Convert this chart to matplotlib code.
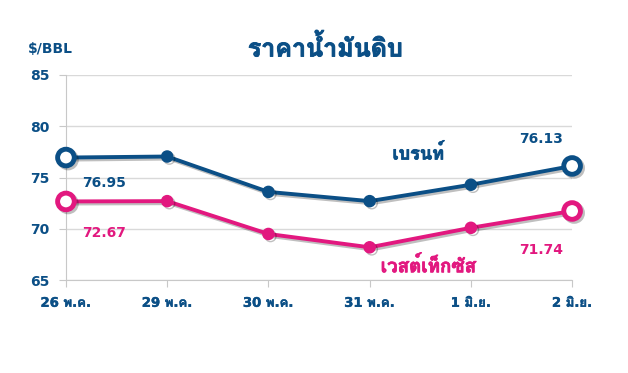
import matplotlib
matplotlib.use('Agg')
import matplotlib.pyplot as plt
import matplotlib.patheffects as pe
from matplotlib import font_manager
from fontTools.ttLib import TTFont

# look for installed fonts with Thai glyphs, prefer a family that has a bold face
thai = {}
for f in font_manager.fontManager.ttflist:
    try:
        cmap = TTFont(f.fname, fontNumber=0, lazy=True).getBestCmap()
    except Exception:
        continue
    if cmap and 0x0E01 in cmap and 0x0E49 in cmap:
        w = f.weight if isinstance(f.weight, int) else 400
        thai.setdefault(f.name, set()).add(w)
thai_font, thai_bold = None, False
for name, ws in thai.items():
    if max(ws) >= 600:
        thai_font, thai_bold = name, True
        break
    thai_font = thai_font or name

latin = ['DejaVu Sans']
thai_fam = ([thai_font] if thai_font else []) + latin
mixed_fam = latin + ([thai_font] if thai_font else [])
plt.rcParams['font.family'] = latin

dates = ['26 พ.ค.', '29 พ.ค.', '30 พ.ค.', '31 พ.ค.', '1 มิ.ย.', '2 มิ.ย.']
brent = [76.95, 77.05, 73.6, 72.7, 74.3, 76.13]
wti = [72.67, 72.7, 69.5, 68.2, 70.1, 71.74]

blue = '#0B4F86'
pink = '#E2187F'


def thai_text(obj, col, size, fam=thai_fam, stroke=1.1):
    # heavy look for Thai text, thickened with a thin stroke
    obj.set_family(fam)
    obj.set_fontweight('bold')
    obj.set_fontsize(size)
    obj.set_path_effects([pe.withStroke(linewidth=stroke if not thai_bold else stroke * 0.5,
                                        foreground=col)])


fig = plt.figure(figsize=(6.28, 3.73), dpi=100)
ax = fig.add_axes([0.105, 0.249, 0.806, 0.550])
x = list(range(len(dates)))

shadow = [pe.SimpleLineShadow(offset=(1.5, -1.5), alpha=0.25), pe.Normal()]
for vals, col in [(brent, blue), (wti, pink)]:
    ax.plot(x, vals, color=col, lw=2.8, marker='o', ms=8, mfc=col, mec=col,
            clip_on=False, zorder=3, path_effects=shadow)
    ax.plot([x[0], x[-1]], [vals[0], vals[-1]], ls='none', marker='o', ms=12,
            mfc='white', mec=col, mew=3.5, clip_on=False, zorder=4, path_effects=shadow)

ax.set_xlim(0, 5)
ax.set_ylim(65, 85)
ax.set_yticks([65, 70, 75, 80, 85])
ax.set_xticks(x)
ax.set_xticklabels(dates)
ax.grid(axis='y', color='#D9D9D9', lw=1)
ax.set_axisbelow(True)
for s in ['top', 'right']:
    ax.spines[s].set_visible(False)
ax.spines['left'].set_color('#C8C8C8')
ax.spines['bottom'].set_color('#C8C8C8')
ax.tick_params(axis='x', colors='#C8C8C8', length=5, pad=7, labelcolor=blue)
ax.tick_params(axis='y', colors='#C8C8C8', length=5, pad=7, labelcolor=blue)
for lab in ax.get_yticklabels():
    lab.set_fontweight('bold')
    lab.set_fontsize(10)
for lab in ax.get_xticklabels():
    thai_text(lab, blue, 9.5, fam=mixed_fam, stroke=0.6)

lbl = dict(fontsize=10, fontweight='bold', ha='center', va='center')
ax.text(0.375, 74.5, f'{brent[0]:.2f}', color=blue, **lbl)
ax.text(0.375, 69.6, f'{wti[0]:.2f}', color=pink, **lbl)
ax.text(4.69, 78.8, f'{brent[-1]:.2f}', color=blue, **lbl)
ax.text(4.69, 67.9, f'{wti[-1]:.2f}', color=pink, **lbl)
t = ax.text(3.48, 77.3, 'เบรนท์', color=blue, ha='center', va='center')
thai_text(t, blue, 13)
t = ax.text(3.58, 66.4, 'เวสต์เท็กซัส', color=pink, ha='center', va='center')
thai_text(t, pink, 13.5)

fig.text(0.045, 0.868, '$/BBL', color=blue, fontsize=10, fontweight='bold', ha='left', va='center')
t = fig.text(0.518, 0.87, 'ราคาน้ำมันดิบ', color=blue, ha='center', va='center')
thai_text(t, blue, 18, stroke=1.3)

fig.savefig('out.png', dpi=100)
